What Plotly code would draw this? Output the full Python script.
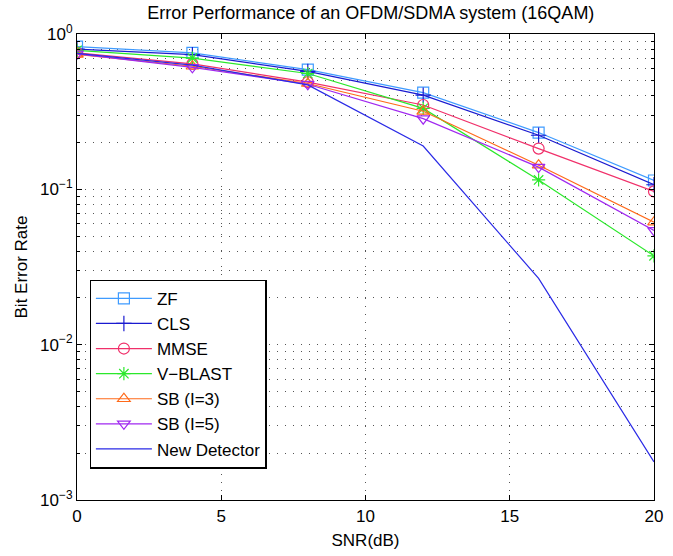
import plotly.graph_objects as go

snr = [0, 4, 8, 12, 16, 20]
ber_zf = [0.83, 0.755, 0.59, 0.419, 0.232, 0.114]
ber_cls = [0.80, 0.736, 0.575, 0.404, 0.223, 0.107]
ber_mmse = [0.755, 0.642, 0.49, 0.349, 0.183, 0.097]
ber_vblast = [0.785, 0.70, 0.557, 0.332, 0.115, 0.0373]
ber_sb3 = [0.74, 0.62, 0.48, 0.318, 0.143, 0.0615]
ber_sb5 = [0.745, 0.61, 0.475, 0.285, 0.139, 0.0544]
ber_new = [0.75, 0.63, 0.47, 0.19, 0.0267, 0.00176]

names = ["ZF", "CLS", "MMSE", "V\u2212BLAST", "SB (I=3)", "SB (I=5)", "New Detector"]
series = [ber_zf, ber_cls, ber_mmse, ber_vblast, ber_sb3, ber_sb5, ber_new]
colors = ["#3f9bff", "#1a1ad0", "#f0306a", "#2be82b", "#ff6a1a", "#a028f0", "#2a2ae6"]
symbols = ["square-open", "cross-thin-open", "circle-open", "asterisk-open",
           "triangle-up-open", "triangle-down-open", None]

ytickvals = [1e-3, 1e-2, 1e-1, 1]
yticktext = ["10<sup>\u22123</sup>", "10<sup>\u22122</sup>", "10<sup>\u22121</sup>", "10<sup>0</sup>"]
yminor = [m * 10.0 ** e for e in (-3, -2, -1) for m in range(2, 10)]
xtickvals = [0, 5, 10, 15, 20]

font = "Liberation Sans, Arial, sans-serif"

fig = go.Figure()
for name, ys, c, s in zip(names, series, colors, symbols):
    if s is None:
        fig.add_trace(go.Scatter(x=snr, y=ys, name=name, mode="lines",
                                 line=dict(color=c, width=1.2)))
    else:
        fig.add_trace(go.Scatter(x=snr, y=ys, name=name, mode="lines+markers",
                                 line=dict(color=c, width=1.2),
                                 marker=dict(symbol=s, size=11, color=c,
                                             line=dict(color=c, width=1.2))))

grid_dash = "1px,7px"
fig.update_layout(
    width=673, height=556,
    margin=dict(l=77, r=10, t=34, b=53),
    paper_bgcolor="white", plot_bgcolor="white",
    font=dict(family=font, size=17, color="black"),
    title=dict(text="Error Performance of an OFDM/SDMA system (16QAM)",
               x=0.551, xanchor="center", y=0.988, yanchor="top",
               font=dict(size=18)),
    showlegend=True,
    legend=dict(x=0.022, y=0.473, xanchor="left", yanchor="top",
                bgcolor="white", bordercolor="black", borderwidth=1.2,
                font=dict(size=17), itemwidth=56, tracegroupgap=0),
    xaxis=dict(range=[0, 20], tickvals=xtickvals, showline=True, linecolor="black",
               linewidth=1.2, mirror="ticks", ticks="inside", ticklen=5,
               tickcolor="black", showgrid=True, gridcolor="#555", gridwidth=1,
               griddash=grid_dash, zeroline=False,
               title=dict(text="SNR(dB)", standoff=9, font=dict(size=17)),
               tickfont=dict(size=17)),
    yaxis=dict(type="log", range=[-3, 0], tickvals=ytickvals, ticktext=yticktext,
               showline=True, linecolor="black", linewidth=1.2, mirror="ticks",
               ticks="inside", ticklen=5, tickcolor="black", showgrid=True,
               gridcolor="#555", gridwidth=1, griddash=grid_dash, zeroline=False,
               title=dict(text="Bit Error Rate", standoff=8, font=dict(size=17)),
               tickfont=dict(size=17),
               minor=dict(tickvals=yminor, ticks="inside", ticklen=3, tickcolor="black",
                          showgrid=True, gridcolor="#555", gridwidth=1,
                          griddash=grid_dash)),
)

fig.write_html("out.html")
